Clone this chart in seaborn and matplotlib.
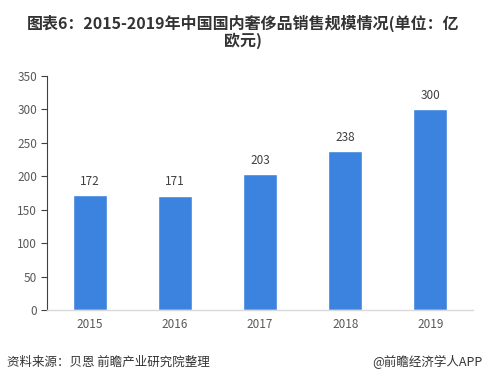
import matplotlib
matplotlib.use('Agg')
import matplotlib.pyplot as plt
import seaborn as sns
import pandas as pd

# 数据
years = ['2015', '2016', '2017', '2018', '2019']
sales = [172, 171, 203, 238, 300]
yticks = [0, 50, 100, 150, 200, 250, 300, 350]

sns.set_theme(style='white')
plt.rcParams['font.family'] = ['Noto Sans CJK SC', 'DejaVu Sans']
plt.rcParams['axes.unicode_minus'] = False

df = pd.DataFrame({'year': years, 'sales': sales})

fig = plt.figure(figsize=(4.86, 3.83), dpi=100)
ax = fig.add_axes([47 / 486, 1 - 310 / 383, 426 / 486, 234 / 383])

sns.barplot(data=df, x='year', y='sales', color='#3B83DE', width=0.4,
            saturation=1, ax=ax)

# 数值标签
for i, v in enumerate(sales):
    ax.text(i, v + 11, str(v), ha='center', va='bottom', fontsize=8.5, color='#404040')

ax.set_ylim(0, 350)
ax.set_yticks(yticks)
ax.set_xlabel('')
ax.set_ylabel('')
ax.tick_params(axis='y', length=4, width=0.8, color='#404040', labelsize=8.5,
               labelcolor='#595959', left=True, pad=3)
ax.tick_params(axis='x', length=0, labelsize=8.5, labelcolor='#595959', pad=6)
for s in ['top', 'right']:
    ax.spines[s].set_visible(False)
ax.spines['left'].set_color('#404040')
ax.spines['left'].set_linewidth(0.8)
ax.spines['bottom'].set_color('#D9D9D9')
ax.spines['bottom'].set_linewidth(1)

# 标题
fig.text(0.5, 1 - 23 / 383, '图表6：2015-2019年中国国内奢侈品销售规模情况(单位：亿',
         ha='center', va='center', fontsize=11.5, fontweight='bold', color='#333333')
fig.text(0.5, 1 - 41 / 383, '欧元)', ha='center', va='center', fontsize=11.5,
         fontweight='bold', color='#333333')

# 底部来源
fig.text(7 / 486, 1 - 362 / 383, '资料来源：贝恩 前瞻产业研究院整理', ha='left', va='center',
         fontsize=9, color='#333333')
fig.text(482 / 486, 1 - 362 / 383, '@前瞻经济学人APP', ha='right', va='center',
         fontsize=9, color='#333333')

fig.savefig('out.png', dpi=100)
